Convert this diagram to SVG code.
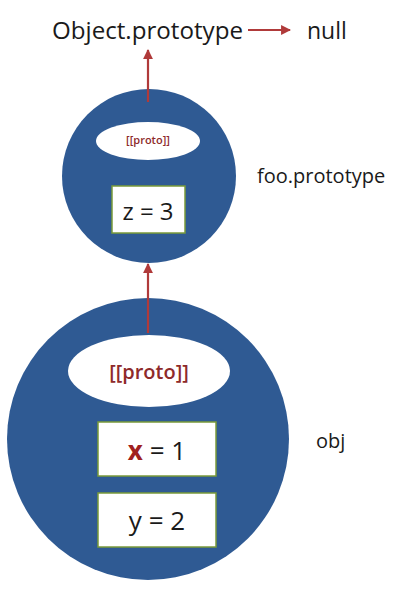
<svg xmlns="http://www.w3.org/2000/svg" width="414" height="593" viewBox="0 0 414 593">
<style>
.lbl{font-family:"Open Sans","Noto Sans","DejaVu Sans",sans-serif;fill:#1a1a1a}
.blob{fill:#2f5a93}
.slot{fill:#ffffff}
.proto{font-family:"Open Sans","Noto Sans","DejaVu Sans",sans-serif;fill:#8e2a2a;font-weight:600;text-anchor:middle}
.box{fill:#ffffff;stroke:#7a9a3a;stroke-width:1.5}
.val{font-family:"Open Sans","Noto Sans","DejaVu Sans",sans-serif;fill:#1a1a1a;text-anchor:middle}
.arr{stroke:#b03a3a;stroke-width:2.2;fill:none}
</style>
<defs>
<marker id="ah" viewBox="0 0 10 10" refX="9" refY="5" markerWidth="4.5" markerHeight="4.5" orient="auto" markerUnits="strokeWidth">
<path d="M0,0 L10,5 L0,10 z" fill="#b03a3a"/>
</marker>
</defs>
<rect width="414" height="593" fill="#ffffff"/>
<g id="object-prototype">
<text class="lbl" x="52" y="39" font-size="23" textLength="191" lengthAdjust="spacingAndGlyphs">Object.prototype</text>
</g>
<g id="null">
<text class="lbl" x="307" y="39" font-size="23">null</text>
</g>
<g id="foo-prototype">
<ellipse class="blob" cx="149" cy="176" rx="87" ry="87"/>
<ellipse class="slot" cx="148" cy="141" rx="52" ry="19"/>
<text class="proto" x="148" y="144" font-size="11">[[proto]]</text>
<rect class="box" x="112" y="186" width="73" height="47"/>
<text class="val" x="148" y="220" font-size="24">z = 3</text>
</g>
<g id="foo-label">
<text class="lbl" x="257" y="183" font-size="20">foo.prototype</text>
</g>
<g id="obj">
<ellipse class="blob" cx="148" cy="439" rx="141" ry="141"/>
<ellipse class="slot" cx="149" cy="371" rx="81" ry="36"/>
<text class="proto" x="149" y="379" font-size="20">[[proto]]</text>
<rect class="box" x="98" y="422" width="118" height="54"/>
<text class="val" x="157" y="460" font-size="26"><tspan fill="#a02020" font-weight="700">x</tspan> = 1</text>
<rect class="box" x="98" y="493" width="118" height="54"/>
<text class="val" x="157" y="530" font-size="26">y = 2</text>
</g>
<g id="obj-label">
<text class="lbl" x="316" y="448" font-size="20">obj</text>
</g>
<g id="connectors">
<line class="arr" x1="148" y1="333" x2="148" y2="264" marker-end="url(#ah)"/>
<line class="arr" x1="148" y1="102" x2="148" y2="50" marker-end="url(#ah)"/>
<line class="arr" x1="248" y1="30" x2="290" y2="30" marker-end="url(#ah)"/>
</g>
</svg>
